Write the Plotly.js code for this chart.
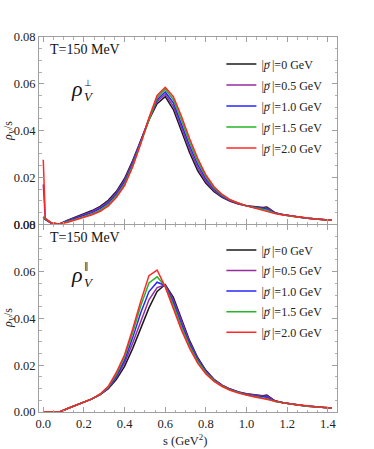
<!DOCTYPE html>
<html>
<head>
<meta charset="utf-8">
<script src="https://cdn.plot.ly/plotly-3.0.1.min.js"></script>
<style>html,body{margin:0;padding:0;background:#fff;}#plot{width:374px;height:449px;}</style>
</head>
<body>
<div id="plot"></div>
<script>
// s grid (GeV^2)
const s = [0, 0.01, 0.04, 0.08, 0.12, 0.16, 0.20, 0.24, 0.28, 0.32, 0.36, 0.40, 0.44, 0.48, 0.52, 0.56, 0.60, 0.64, 0.68, 0.72, 0.76, 0.80, 0.84, 0.88, 0.92, 0.96, 1.00, 1.04, 1.08, 1.10, 1.14, 1.18, 1.22, 1.26, 1.30, 1.34, 1.38, 1.42];

const momentumLabels = ["0", "0.5", "1.0", "1.5", "2.0"];
const seriesColors = ["#1a1a1a", "#952c9f", "#2626ff", "#26b526", "#ff2626"];

// transverse rho_V^perp / s
const perp_p00 = [0.003, 0.002, 0.0004, 0.0001, 0.0017, 0.0030, 0.0044, 0.0058, 0.0076, 0.0102, 0.0140, 0.0195, 0.0272, 0.0360, 0.0445, 0.0515, 0.0545, 0.0490, 0.0395, 0.0305, 0.0228, 0.0175, 0.0139, 0.0115, 0.0098, 0.0086, 0.0079, 0.0074, 0.0071, 0.0073, 0.0049, 0.0040, 0.0034, 0.0029, 0.0025, 0.0022, 0.0019, 0.0017];
const perp_p05 = [0.017, 0.002, 0.0004, 0.0001, 0.0015, 0.0027, 0.0040, 0.0054, 0.0071, 0.0096, 0.0134, 0.0188, 0.0265, 0.0356, 0.0448, 0.0524, 0.0555, 0.0504, 0.0412, 0.0320, 0.0240, 0.0183, 0.0144, 0.0118, 0.0100, 0.0087, 0.0078, 0.0072, 0.0068, 0.0069, 0.0048, 0.0040, 0.0034, 0.0029, 0.0025, 0.0022, 0.0019, 0.0017];
const perp_p10 = [0.003, 0.0022, 0.0004, 0.0001, 0.0013, 0.0024, 0.0036, 0.0049, 0.0066, 0.0090, 0.0128, 0.0180, 0.0258, 0.0352, 0.0450, 0.0532, 0.0565, 0.0518, 0.0428, 0.0335, 0.0254, 0.0193, 0.0150, 0.0121, 0.0101, 0.0088, 0.0078, 0.0071, 0.0065, 0.0064, 0.0047, 0.0040, 0.0034, 0.0029, 0.0025, 0.0022, 0.0019, 0.0017];
const perp_p15 = [0.003, 0.0024, 0.0005, 0.0001, 0.0010, 0.0021, 0.0032, 0.0044, 0.0060, 0.0084, 0.0121, 0.0172, 0.0251, 0.0348, 0.0452, 0.0541, 0.0577, 0.0532, 0.0444, 0.0350, 0.0267, 0.0202, 0.0155, 0.0124, 0.0103, 0.0089, 0.0078, 0.0070, 0.0062, 0.0059, 0.0046, 0.0039, 0.0034, 0.0029, 0.0025, 0.0022, 0.0019, 0.0017];
const perp_p20 = [0.0275, 0.0025, 0.0005, 0.0001, 0.0008, 0.0018, 0.0028, 0.0040, 0.0055, 0.0078, 0.0115, 0.0165, 0.0245, 0.0345, 0.0455, 0.0550, 0.0585, 0.0545, 0.0460, 0.0365, 0.0280, 0.0210, 0.0160, 0.0127, 0.0104, 0.0089, 0.0078, 0.0068, 0.0060, 0.0055, 0.0045, 0.0039, 0.0034, 0.0029, 0.0025, 0.0022, 0.0019, 0.0017];

// longitudinal rho_V^par / s
const par_p00 = [0, 0, 0, 0, 0.0015, 0.0028, 0.0042, 0.0056, 0.0074, 0.0100, 0.0140, 0.0195, 0.0272, 0.0360, 0.0445, 0.0515, 0.0545, 0.0490, 0.0395, 0.0305, 0.0232, 0.0178, 0.0140, 0.0115, 0.0098, 0.0086, 0.0078, 0.0073, 0.0070, 0.0073, 0.0048, 0.0040, 0.0034, 0.0029, 0.0025, 0.0022, 0.0019, 0.0017];
const par_p05 = [0, 0, 0, 0, 0.0015, 0.0028, 0.0042, 0.0056, 0.0074, 0.0102, 0.0148, 0.0210, 0.0295, 0.0392, 0.0480, 0.0532, 0.0543, 0.0480, 0.0385, 0.0298, 0.0227, 0.0175, 0.0138, 0.0114, 0.0097, 0.0085, 0.0077, 0.0071, 0.0067, 0.0068, 0.0047, 0.0040, 0.0034, 0.0029, 0.0025, 0.0022, 0.0019, 0.0017];
const par_p10 = [0, 0, 0, 0, 0.0015, 0.0028, 0.0041, 0.0056, 0.0075, 0.0104, 0.0155, 0.0222, 0.0318, 0.0425, 0.0515, 0.0555, 0.0541, 0.0468, 0.0375, 0.0290, 0.0222, 0.0172, 0.0136, 0.0112, 0.0096, 0.0084, 0.0075, 0.0068, 0.0064, 0.0063, 0.0046, 0.0039, 0.0034, 0.0029, 0.0025, 0.0022, 0.0019, 0.0017];
const par_p15 = [0, 0, 0, 0, 0.0015, 0.0028, 0.0041, 0.0056, 0.0076, 0.0107, 0.0162, 0.0235, 0.0340, 0.0455, 0.0552, 0.0578, 0.0538, 0.0456, 0.0362, 0.0282, 0.0216, 0.0168, 0.0134, 0.0111, 0.0094, 0.0082, 0.0073, 0.0066, 0.0060, 0.0057, 0.0045, 0.0039, 0.0034, 0.0029, 0.0025, 0.0022, 0.0019, 0.0017];
const par_p20 = [0, 0, 0, 0, 0.0015, 0.0028, 0.0041, 0.0056, 0.0077, 0.0110, 0.0170, 0.0245, 0.0355, 0.0475, 0.0583, 0.0607, 0.0535, 0.0445, 0.0350, 0.0272, 0.0208, 0.0163, 0.0131, 0.0109, 0.0093, 0.0081, 0.0071, 0.0064, 0.0058, 0.0054, 0.0044, 0.0039, 0.0034, 0.0029, 0.0025, 0.0022, 0.0019, 0.0017];

const perpSeries = [perp_p00, perp_p05, perp_p10, perp_p15, perp_p20];
const parSeries = [par_p00, par_p05, par_p10, par_p15, par_p20];

const FONT = '"Liberation Serif", "Times New Roman", serif';

// |p-vector| label: italic p with a small arrow placed above it
function pLabel(v) {
  return '|<span style="letter-spacing:-6.2px"><i>p</i></span><sup>\u2192</sup>|=' + v + ' GeV';
}

const traces = [];
perpSeries.forEach((y, i) => {
  traces.push({
    x: s, y: y, type: 'scatter', mode: 'lines', xaxis: 'x', yaxis: 'y',
    line: {color: seriesColors[i], width: 1.5},
    name: pLabel(momentumLabels[i]),
    legend: 'legend', legendgroup: 'a' + i, showlegend: true
  });
});
parSeries.forEach((y, i) => {
  traces.push({
    x: s, y: y, type: 'scatter', mode: 'lines', xaxis: 'x2', yaxis: 'y2',
    line: {color: seriesColors[i], width: 1.5},
    name: pLabel(momentumLabels[i]),
    legend: 'legend2', legendgroup: 'b' + i, showlegend: true
  });
});

const axisCommon = {
  showline: true, mirror: 'allticks', linecolor: '#a0a0a0', linewidth: 1,
  ticks: 'inside', ticklen: 5, tickcolor: '#a0a0a0', tickwidth: 1,
  showgrid: false, zeroline: false,
  tickfont: {family: FONT, size: 12.5, color: '#222'},
  minor: {ticks: 'inside', ticklen: 2.5, tickcolor: '#b0b0b0', showgrid: false}
};

const xr = [-0.021, 1.445];
const layout = {
  width: 374, height: 449,
  margin: {l: 39, r: 37, t: 37, b: 37},
  paper_bgcolor: '#fff', plot_bgcolor: '#fff',
  showlegend: true,
  font: {family: FONT, color: '#222'},
  xaxis: Object.assign({}, axisCommon, {anchor: 'y', range: xr, dtick: 0.2, tick0: 0, showticklabels: false, minor: Object.assign({}, axisCommon.minor, {dtick: 0.05})}),
  xaxis2: Object.assign({}, axisCommon, {anchor: 'y2', range: xr, dtick: 0.2, tick0: 0, tickformat: '.1f', minor: Object.assign({}, axisCommon.minor, {dtick: 0.05})}),
  yaxis: Object.assign({}, axisCommon, {anchor: 'x', domain: [0.501, 1], range: [0, 0.08], dtick: 0.02, tickformat: '.2f', minor: Object.assign({}, axisCommon.minor, {dtick: 0.005})}),
  yaxis2: Object.assign({}, axisCommon, {anchor: 'x2', domain: [0, 0.499], range: [0, 0.08], dtick: 0.02, tickformat: '.2f', minor: Object.assign({}, axisCommon.minor, {dtick: 0.005})}),
  legend: {x: 0.612, y: 0.967, xanchor: 'left', yanchor: 'top', bgcolor: 'rgba(0,0,0,0)', traceorder: 'grouped', tracegroupgap: 2, font: {family: FONT, size: 12, color: '#222'}},
  legend2: {x: 0.612, y: 0.471, xanchor: 'left', yanchor: 'top', bgcolor: 'rgba(0,0,0,0)', traceorder: 'grouped', tracegroupgap: 1.6, font: {family: FONT, size: 12, color: '#222'}},
  annotations: [
    {xref: 'paper', yref: 'paper', x: 0.03, y: (412 - 50) / 375, xanchor: 'left', yanchor: 'middle', text: 'T=150 MeV', showarrow: false, font: {family: FONT, size: 14, color: '#111'}},
    {xref: 'paper', yref: 'paper', x: 0.03, y: (412 - 237) / 375, xanchor: 'left', yanchor: 'middle', text: 'T=150 MeV', showarrow: false, font: {family: FONT, size: 14, color: '#111'}},
    // rho perp
    {xref: 'paper', yref: 'paper', x: (70 - 39) / 298, y: (412 - 88) / 375, xanchor: 'left', yanchor: 'middle', text: '<i>ρ</i>', showarrow: false, borderpad: 0, font: {family: FONT, size: 22, color: '#111'}},
    {xref: 'paper', yref: 'paper', x: (83 - 39) / 298, y: (412 - 83) / 375, xanchor: 'left', yanchor: 'middle', text: '\u22A5', showarrow: false, borderpad: 0, font: {family: FONT, size: 9, color: '#111'}},
    {xref: 'paper', yref: 'paper', x: (83 - 39) / 298, y: (412 - 96) / 375, xanchor: 'left', yanchor: 'middle', text: '<i>V</i>', showarrow: false, borderpad: 0, font: {family: FONT, size: 13, color: '#111'}},
    // rho par
    {xref: 'paper', yref: 'paper', x: (70 - 39) / 298, y: (412 - 274) / 375, xanchor: 'left', yanchor: 'middle', text: '<i>ρ</i>', showarrow: false, borderpad: 0, font: {family: FONT, size: 22, color: '#111'}},
    {xref: 'paper', yref: 'paper', x: (83 - 39) / 298, y: (412 - 266) / 375, xanchor: 'left', yanchor: 'middle', text: '\u2225', showarrow: false, borderpad: 0, font: {family: FONT, size: 9, color: '#111'}},
    {xref: 'paper', yref: 'paper', x: (83 - 39) / 298, y: (412 - 282) / 375, xanchor: 'left', yanchor: 'middle', text: '<i>V</i>', showarrow: false, borderpad: 0, font: {family: FONT, size: 13, color: '#111'}},
    // y titles
    {xref: 'paper', yref: 'paper', x: (9 - 39) / 298, y: (412 - 131) / 375, xanchor: 'center', yanchor: 'middle', textangle: -90, text: '<i>ρ</i><sub><i>V</i></sub>/s', showarrow: false, font: {family: FONT, size: 12, color: '#222'}},
    {xref: 'paper', yref: 'paper', x: (9 - 39) / 298, y: (412 - 318) / 375, xanchor: 'center', yanchor: 'middle', textangle: -90, text: '<i>ρ</i><sub><i>V</i></sub>/s', showarrow: false, font: {family: FONT, size: 12, color: '#222'}},
    // x title
    {xref: 'paper', yref: 'paper', x: (185 - 39) / 298, y: (412 - 440) / 375, xanchor: 'center', yanchor: 'middle', text: 's (GeV<sup>2</sup>)', showarrow: false, font: {family: FONT, size: 12.5, color: '#222'}}
  ]
};

Plotly.newPlot('plot', traces, layout, {staticPlot: true, displayModeBar: false});
</script>
</body>
</html>
